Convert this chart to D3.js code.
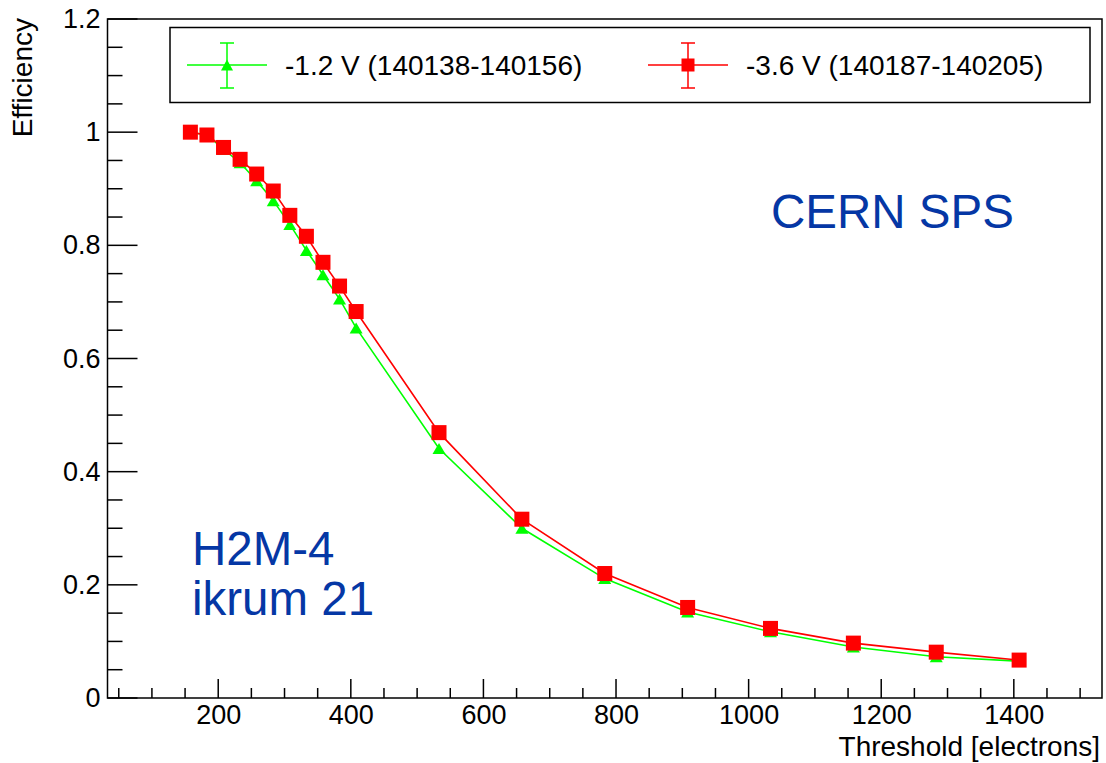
<!DOCTYPE html>
<html lang="en">
<head>
  <meta charset="UTF-8">
  <title>Efficiency vs Threshold</title>
  <script src="https://d3js.org/d3.v7.min.js"></script>
  <style>
    body { margin: 0; background: #fff; }
    text { font-family: "Liberation Sans", Arial, sans-serif; fill: #000; }
    .note { fill: #0537a5; font-size: 47.5px; }
    .tick-label { font-size: 27px; }
    .axis-title { font-size: 28px; }
    .legend-text { font-size: 28px; }
  </style>
</head>
<body>
  <div id="chart"></div>

  <script>
    // threshold in electrons
    const thresholds = [158, 183, 208, 233, 258, 283, 308, 333, 358, 383, 408, 533, 658, 783, 908, 1033, 1158, 1283, 1408];
    // -1.2 V runs 140138-140156
    const effLow = [1.0, 0.995, 0.970, 0.946, 0.914, 0.879, 0.837, 0.791, 0.748, 0.705, 0.654, 0.441, 0.300, 0.211, 0.152, 0.117, 0.090, 0.073, 0.065];
    // -3.6 V runs 140187-140205
    const effHigh = [1.0, 0.995, 0.973, 0.952, 0.926, 0.896, 0.853, 0.816, 0.770, 0.728, 0.683, 0.469, 0.316, 0.220, 0.160, 0.123, 0.097, 0.081, 0.067];

    const seriesNames = ["-1.2 V (140138-140156)", "-3.6 V (140187-140205)"];
    const seriesColors = ["#00ff00", "#ff0000"];
    const xTicks = [200, 400, 600, 800, 1000, 1200, 1400];
    const yTicks = [0, 0.2, 0.4, 0.6, 0.8, 1, 1.2];

    const width = 1106, height = 763;
    const frame = { left: 107.5, right: 1102, top: 19, bottom: 698 };

    const svg = d3.select("#chart").append("svg")
      .attr("width", width)
      .attr("height", height);

    const x = d3.scaleLinear().domain([33, 1533]).range([frame.left, frame.right]);
    const y = d3.scaleLinear().domain([0, 1.2]).range([frame.bottom, frame.top]);

    // frame
    svg.append("rect")
      .attr("x", frame.left).attr("y", frame.top)
      .attr("width", frame.right - frame.left)
      .attr("height", frame.bottom - frame.top)
      .attr("fill", "none").attr("stroke", "#000").attr("stroke-width", 1.5);

    // y axis: ticks inside, labels on the left
    const yAxis = d3.axisLeft(y).tickValues(yTicks).tickSize(0).tickPadding(7)
      .tickFormat(d => d3.format("~g")(d));
    const gy = svg.append("g").attr("transform", `translate(${frame.left},0)`).call(yAxis);
    gy.select(".domain").remove();
    gy.selectAll("text").attr("class", "tick-label").attr("font-family", null).attr("font-size", null);
    d3.range(0, 1.2001, 0.05).forEach((v, i) => {
      const len = i % 4 === 0 ? 30 : 15;
      svg.append("line")
        .attr("x1", frame.left).attr("x2", frame.left + len)
        .attr("y1", y(v)).attr("y2", y(v))
        .attr("stroke", "#000").attr("stroke-width", 1.5);
    });

    // x axis
    const xAxis = d3.axisBottom(x).tickValues(xTicks).tickSize(0).tickPadding(7)
      .tickFormat(d3.format("d"));
    const gx = svg.append("g").attr("transform", `translate(0,${frame.bottom})`).call(xAxis);
    gx.select(".domain").remove();
    gx.selectAll("text").attr("class", "tick-label").attr("font-family", null).attr("font-size", null);
    d3.range(50, 1533, 50).forEach(v => {
      const len = v % 200 === 0 ? 19 : 10;
      svg.append("line")
        .attr("x1", x(v)).attr("x2", x(v))
        .attr("y1", frame.bottom).attr("y2", frame.bottom - len)
        .attr("stroke", "#000").attr("stroke-width", 1.5);
    });

    // axis titles
    svg.append("text").attr("class", "axis-title")
      .attr("x", 1100).attr("y", 756)
      .attr("text-anchor", "end")
      .text("Threshold [electrons]");

    svg.append("text").attr("class", "axis-title")
      .attr("transform", "translate(32,18) rotate(-90)")
      .attr("text-anchor", "end")
      .text("Efficiency");

    // markers
    function triangle(cx, cy, w, h) {
      return `M${cx - w / 2},${cy + h / 2}L${cx + w / 2},${cy + h / 2}L${cx},${cy - h / 2}Z`;
    }

    const line = d3.line().x(d => x(d[0])).y(d => y(d[1]));
    const allSeries = [effLow, effHigh];

    allSeries.forEach((vals, si) => {
      const pts = thresholds.map((t, i) => [t, vals[i]]);
      svg.append("path")
        .datum(pts)
        .attr("d", line)
        .attr("fill", "none")
        .attr("stroke", seriesColors[si])
        .attr("stroke-width", 1.6);

      if (si === 0) {
        svg.selectAll(".tri").data(pts).enter().append("path")
          .attr("class", "tri")
          .attr("d", d => triangle(x(d[0]), y(d[1]), 13, 11))
          .attr("fill", seriesColors[si]);
      } else {
        svg.selectAll(".sq").data(pts).enter().append("rect")
          .attr("class", "sq")
          .attr("x", d => x(d[0]) - 7.5)
          .attr("y", d => y(d[1]) - 7.5)
          .attr("width", 15).attr("height", 15)
          .attr("fill", seriesColors[si]);
      }
    });

    // legend
    const legend = svg.append("g");
    legend.append("rect")
      .attr("x", 170).attr("y", 27.5)
      .attr("width", 920).attr("height", 75)
      .attr("fill", "#fff").attr("stroke", "#000").attr("stroke-width", 1.5);

    const legendX = [227, 688];
    const legendY = 65;
    seriesNames.forEach((name, i) => {
      const cx = legendX[i];
      const c = seriesColors[i];
      legend.append("line")
        .attr("x1", cx - 40).attr("x2", cx + 40)
        .attr("y1", legendY).attr("y2", legendY)
        .attr("stroke", c).attr("stroke-width", 1.5);
      legend.append("line")
        .attr("x1", cx).attr("x2", cx)
        .attr("y1", legendY - 22).attr("y2", legendY + 23)
        .attr("stroke", c).attr("stroke-width", 1.5);
      [legendY - 22, legendY + 23].forEach(cy => {
        legend.append("line")
          .attr("x1", cx - 7).attr("x2", cx + 7)
          .attr("y1", cy).attr("y2", cy)
          .attr("stroke", c).attr("stroke-width", 1.5);
      });
      if (i === 0) {
        legend.append("path").attr("d", triangle(cx, legendY, 12, 11)).attr("fill", c);
      } else {
        legend.append("rect")
          .attr("x", cx - 6.5).attr("y", legendY - 6.5)
          .attr("width", 13).attr("height", 13)
          .attr("fill", c);
      }
      legend.append("text").attr("class", "legend-text")
        .attr("x", cx + 58).attr("y", legendY + 10)
        .text(name);
    });

    // annotations
    svg.append("text").attr("class", "note").attr("x", 771).attr("y", 228).text("CERN SPS");
    svg.append("text").attr("class", "note").attr("x", 192).attr("y", 565).text("H2M-4");
    svg.append("text").attr("class", "note").attr("x", 192).attr("y", 615).text("ikrum 21");
  </script>
</body>
</html>
